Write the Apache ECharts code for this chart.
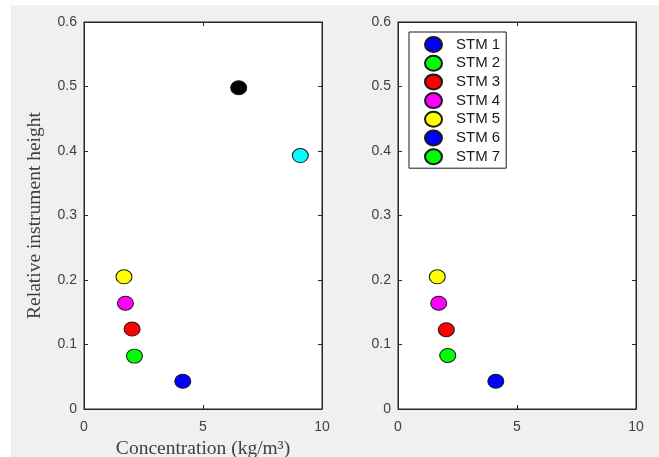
<!DOCTYPE html>
<html>
<head>
<meta charset="utf-8">
<script src="https://cdn.jsdelivr.net/npm/echarts@6/dist/echarts.min.js"></script>
<style>
  html, body { margin: 0; padding: 0; background: #ffffff; }
  #chart { width: 659px; height: 457px; }
</style>
</head>
<body>
<div id="chart"></div>
<script>
// Station names and marker colours
const stations = ['STM 1', 'STM 2', 'STM 3', 'STM 4', 'STM 5', 'STM 6', 'STM 7'];
const leftColors = ['#0000ff', '#00ff00', '#ff0000', '#ff00ff', '#ffff00', '#000000', '#00ffff'];
const rightColors = ['#0000ff', '#00ff00', '#ff0000', '#ff00ff', '#ffff00', '#0000ff', '#00ff00'];

// Left panel: concentration (kg/m3) and relative instrument height per station
const leftConc = [4.15, 2.12, 2.02, 1.74, 1.68, 6.50, 9.09];
const leftHeight = [0.043, 0.082, 0.124, 0.164, 0.205, 0.498, 0.393];

// Right panel: same quantities, stations 6 and 7 have no values
const rightConc = [4.11, 2.09, 2.03, 1.71, 1.65, null, null];
const rightHeight = [0.043, 0.083, 0.123, 0.164, 0.205, null, null];

// Axis ranges / tick spacing
const xRange = [0, 10], xStep = 5;
const yRange = [0, 0.6], yStep = 0.1;

const ellipse = 'path://M0,1A1,1,0,1,1,2,1A1,1,0,1,1,0,1Z';
const axisColor = '#262626';
const labelColor = '#404040';
const sansFont = '"Liberation Sans", Arial, sans-serif';
const serifFont = '"Liberation Serif", "Times New Roman", serif';

const grids = [
  { left: 84, top: 22, width: 238, height: 387 },
  { left: 398, top: 22, width: 238, height: 387 }
];

function xAxes(gi, withName) {
  const base = {
    type: 'value', gridIndex: gi, min: xRange[0], max: xRange[1], interval: xStep,
    splitLine: { show: false },
    axisLine: { show: true, onZero: false, lineStyle: { color: axisColor, width: 1 } },
    axisTick: { show: true, inside: true, length: 4, lineStyle: { color: axisColor } }
  };
  return [
    Object.assign({}, base, {
      position: 'bottom',
      axisLabel: { color: labelColor, fontFamily: sansFont, fontSize: 14, margin: 11 },
      name: withName ? 'Concentration (kg/m³)' : '',
      nameLocation: 'middle', nameGap: 29,
      nameTextStyle: { color: labelColor, fontFamily: serifFont, fontSize: 19.5 }
    }),
    Object.assign({}, base, { position: 'top', axisLabel: { show: false } })
  ];
}

function yAxes(gi, withName) {
  const base = {
    type: 'value', gridIndex: gi, min: yRange[0], max: yRange[1], interval: yStep,
    splitLine: { show: false },
    axisLine: { show: true, onZero: false, lineStyle: { color: axisColor, width: 1 } },
    axisTick: { show: true, inside: true, length: 4, lineStyle: { color: axisColor } }
  };
  return [
    Object.assign({}, base, {
      position: 'left',
      axisLabel: {
        color: labelColor, fontFamily: sansFont, fontSize: 14, margin: 7,
        formatter: v => (v === 0 ? '0' : v.toFixed(1))
      },
      name: withName ? 'Relative instrument height' : '',
      nameLocation: 'middle', nameGap: 39,
      nameTextStyle: { color: labelColor, fontFamily: serifFont, fontSize: 19.5 }
    }),
    Object.assign({}, base, { position: 'right', axisLabel: { show: false } })
  ];
}

const xAxisList = [...xAxes(0, true), ...xAxes(1, false)];
const yAxisList = [...yAxes(0, true), ...yAxes(1, false)];

function makeSeries(conc, height, colors, axisIdx) {
  return stations.map((name, i) => ({
    type: 'scatter',
    name: name,
    xAxisIndex: axisIdx,
    yAxisIndex: axisIdx,
    symbol: ellipse,
    symbolKeepAspect: false,
    symbolSize: [16, 14],
    itemStyle: { color: colors[i], borderColor: '#1a1a1a', borderWidth: 1, opacity: 1 },
    emphasis: { disabled: true },
    data: conc[i] == null ? [] : [[conc[i], height[i]]]
  }));
}

// right-panel series come first so the legend takes their colours
const series = [
  ...makeSeries(rightConc, rightHeight, rightColors, 2),
  ...makeSeries(leftConc, leftHeight, leftColors, 0)
];

const chart = echarts.init(document.getElementById('chart'), null, { renderer: 'canvas' });
chart.setOption({
  animation: false,
  backgroundColor: '#ffffff',
  graphic: [{
    type: 'rect', z: -10, silent: true,
    shape: { x: 11, y: 5, width: 648, height: 452 },
    style: { fill: '#f0f0f0' }
  }],
  grid: grids.map(g => Object.assign({
    show: true, backgroundColor: '#ffffff', borderColor: axisColor, borderWidth: 1,
    containLabel: false, outerBoundsMode: 'none'
  }, g)),
  xAxis: xAxisList,
  yAxis: yAxisList,
  legend: {
    data: stations,
    orient: 'vertical',
    left: 409, top: 32,
    backgroundColor: '#ffffff',
    borderColor: '#1a1a1a', borderWidth: 1, borderRadius: 0,
    padding: [4, 6, 3, 15],
    itemWidth: 17, itemHeight: 15, itemGap: 1.7,
    icon: ellipse,
    symbolKeepAspect: false,
    selectedMode: false,
    textStyle: {
      color: '#1a1a1a', fontFamily: sansFont, fontSize: 15, lineHeight: 17,
      padding: [0, 0, 0, 9]
    }
  },
  series: series
});
</script>
</body>
</html>
